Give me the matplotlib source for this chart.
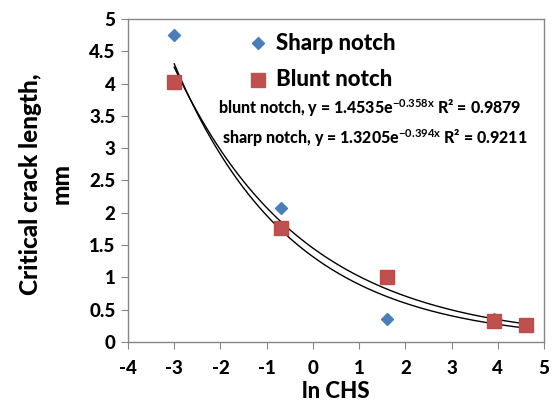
import numpy as np
import matplotlib
matplotlib.use("Agg")
import matplotlib.pyplot as plt

# ln CHS values for the five test conditions
ln_chs = [-3.0, -0.69, 1.61, 3.91, 4.61]
sharp_crack = [4.75, 2.07, 0.36, 0.35, 0.24]
blunt_crack = [4.02, 1.77, 1.01, 0.32, 0.27]

# exponential trendline coefficients printed on the chart: y = a * exp(b x)
blunt_fit = (1.4535, -0.358)
sharp_fit = (1.3205, -0.394)

x_ticks = [-4, -3, -2, -1, 0, 1, 2, 3, 4, 5]
y_ticks = [0, 0.5, 1, 1.5, 2, 2.5, 3, 3.5, 4, 4.5, 5]

plt.rcParams["font.family"] = ["Lato", "DejaVu Sans"]
plt.rcParams["mathtext.fontset"] = "custom"
plt.rcParams["mathtext.rm"] = "Lato:bold"
plt.rcParams["mathtext.it"] = "Lato:bold"
plt.rcParams["mathtext.bf"] = "Lato:bold"

W, H = 552, 403
fig = plt.figure(figsize=(W / 100, H / 100), dpi=100)
ax = fig.add_axes([128 / W, 1 - 342 / H, (544 - 128) / W, (342 - 19) / H])

xs = np.linspace(min(ln_chs), max(ln_chs), 200)
for a, b in (blunt_fit, sharp_fit):
    ax.plot(xs, a * np.exp(b * xs), color="black", lw=1.0, zorder=2)

ax.plot(ln_chs, sharp_crack, "D", color="#4a7ebb", ms=6.5, mec="#4a7ebb", zorder=3)
ax.plot(ln_chs, blunt_crack, "s", color="#c0504d", ms=10, mec="#be4b48", zorder=4)

ax.set_xlim(-4, 5)
ax.set_ylim(0, 5)
ax.set_xticks(x_ticks)
ax.set_yticks(y_ticks)
ax.set_xticklabels([str(t) for t in x_ticks])
ax.set_yticklabels([f"{t:g}" for t in y_ticks])
for s in ax.spines.values():
    s.set_color("#868686")
    s.set_linewidth(1.0)
ax.tick_params(direction="out", length=5, color="#868686", labelsize=13.5, pad=4)
for lab in ax.get_xticklabels() + ax.get_yticklabels():
    lab.set_fontweight("black")
ax.tick_params(axis="x", pad=8)

ax.set_xlabel("ln CHS", fontsize=16, fontweight="black")
ax.xaxis.set_label_coords(0.5, (342 - 381) / (342 - 19))
ax.set_ylabel("Critical crack length,\nmm", fontsize=17.5, fontweight="black",
              linespacing=1.4)
ax.yaxis.set_label_coords((73 - 128) / (544 - 128), 0.49)

# legend drawn as free text like the original
def fx(px):
    return px / W

def fy(py):
    return 1 - py / H

fig.lines.append(plt.Line2D([fx(258)], [fy(43)], marker="D", color="#4a7ebb",
                            ms=6.5, transform=fig.transFigure))
fig.lines.append(plt.Line2D([fx(258)], [fy(80)], marker="s", color="#c0504d",
                            ms=10, transform=fig.transFigure))
fig.text(fx(276), fy(43), "Sharp notch", fontsize=16, fontweight="black", va="center")
fig.text(fx(276), fy(80), "Blunt notch", fontsize=16, fontweight="black", va="center")

fig.text(fx(218), fy(108), r"blunt notch, y = 1.4535e$^{-0.358x}$ R² = 0.9879",
         fontsize=11.5, fontweight="black", va="center")
fig.text(fx(222), fy(138), r"sharp notch, y = 1.3205e$^{-0.394x}$ R² = 0.9211",
         fontsize=11.5, fontweight="black", va="center")

fig.savefig("out.png", dpi=100)
